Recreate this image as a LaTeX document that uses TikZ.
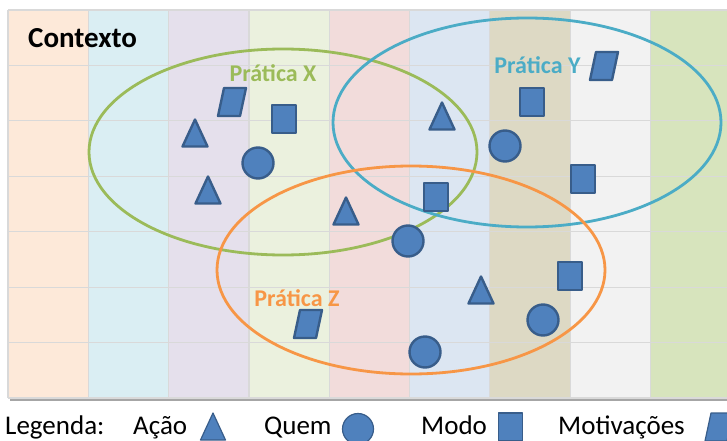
\documentclass[tikz,border=0pt]{standalone}
\usepackage{fontspec}
\setmainfont{Carlito}

\definecolor{col1}{HTML}{FDE9D9}
\definecolor{col2}{HTML}{DAEEF3}
\definecolor{col3}{HTML}{E5E0EC}
\definecolor{col4}{HTML}{EBF1DE}
\definecolor{col5}{HTML}{F2DCDB}
\definecolor{col6}{HTML}{DCE6F2}
\definecolor{col7}{HTML}{DDD9C4}
\definecolor{col8}{HTML}{F2F2F2}
\definecolor{col9}{HTML}{D7E4BD}
\definecolor{verdeX}{HTML}{9BBB59}
\definecolor{azulY}{HTML}{4BACC6}
\definecolor{laranjaZ}{HTML}{F79646}
\definecolor{azul}{HTML}{4F81BD}
\definecolor{azulescuro}{HTML}{385D8A}

\tikzset{
    grade/.style={draw=black!15, line width=1.2pt},
    contorno/.style={line width=2.8pt},
    forma/.style={fill=azul, draw=azulescuro, line width=2.4pt, line join=round},
    fina/.style={forma/.append style={line width=1.2pt}},
    acao/.pic={\path[forma] (-12.5,13.5) -- (0,-13.5) -- (12.5,13.5) -- cycle;},
    quem/.pic={\path[forma] (0,0) circle [radius=15.5];},
    modo/.pic={\path[forma] (-12,-14) rectangle (12,14);},
    motivo/.pic={\path[forma] (-8,-14) -- (14,-14) -- (8,14) -- (-14,14) -- cycle;}
}

\begin{document}
\begin{tikzpicture}[x=1pt,y=-1pt]
    \useasboundingbox (0,0) rectangle (727,441);

    % painel
    \fill[black!35] (10,12) rectangle (733,400.5);
    \foreach \cor [count=\i from 0] in {col1,col2,col3,col4,col5,col6,col7,col8,col9}
        \fill[\cor] ({8+80.3*\i},10) rectangle ({8+80.3*(\i+1)},398);
    \foreach \i in {0,...,9}
        \draw[grade] ({8+80.3*\i},10) -- ({8+80.3*\i},398);
    \foreach \j in {0,...,7}
        \draw[grade] (8,{10+55.43*\j}) -- (731,{10+55.43*\j});

    \node[anchor=base west, font=\bfseries\fontsize{29}{30}\selectfont, inner sep=0pt]
        (contexto) at (28,48) {Contexto};

    % praticas
    \draw[verdeX, contorno] (283,152) ellipse [x radius=194, y radius=103];
    \draw[azulY, contorno] (527,122.5) ellipse [x radius=194, y radius=104.5];
    \draw[laranjaZ, contorno] (411,270) ellipse [x radius=194, y radius=104];

    \node[anchor=base, text=verdeX, font=\bfseries\fontsize{24}{25}\selectfont, inner sep=0pt]
        (praticaX) at (273,82) {Prática X};
    \node[anchor=base, text=azulY, font=\bfseries\fontsize{24}{25}\selectfont, inner sep=0pt]
        (praticaY) at (537.5,74) {Prática Y};
    \node[anchor=base, text=laranjaZ, font=\bfseries\fontsize{24}{25}\selectfont, inner sep=0pt]
        (praticaZ) at (297,306) {Prática Z};

    % elementos
    \pic (t1) at (195,133) {acao};
    \pic (t2) at (208,190) {acao};
    \pic (t3) at (346,211) {acao};
    \pic (t4) at (442,116) {acao};
    \pic (t5) at (481,290) {acao};

    \pic (c1) at (258,163) {quem};
    \pic (c2) at (505,146) {quem};
    \pic (c3) at (408,241) {quem};
    \pic (c4) at (543,320) {quem};
    \pic (c5) at (425,352) {quem};

    \pic (q1) at (284,119) {modo};
    \pic (q2) at (532,102) {modo};
    \pic (q3) at (583,179) {modo};
    \pic (q4) at (436,197) {modo};
    \pic (q5) at (570,276) {modo};

    \pic (m1) at (232,102) {motivo};
    \pic (m2) at (604,66) {motivo};
    \pic (m3) at (308,324) {motivo};

    % legenda
    \begin{scope}[every node/.style={anchor=base west, inner sep=0pt, font=\fontsize{27}{28}\selectfont}]
        \node (legenda) at (5,434) {Legenda:};
        \node (lacao) at (133,434) {Ação};
        \node (lquem) at (264,434) {Quem};
        \node (lmodo) at (421,434) {Modo};
        \node (lmotivo) at (558,434) {Motivações};
    \end{scope}
    \pic[fina] (la) at (213,426.5) {acao};
    \pic[fina] (lq) at (358,429) {quem};
    \pic[fina] (lm) at (510.5,427) {modo};
    \pic[fina] (lv) at (719,427) {motivo};
\end{tikzpicture}
\end{document}
